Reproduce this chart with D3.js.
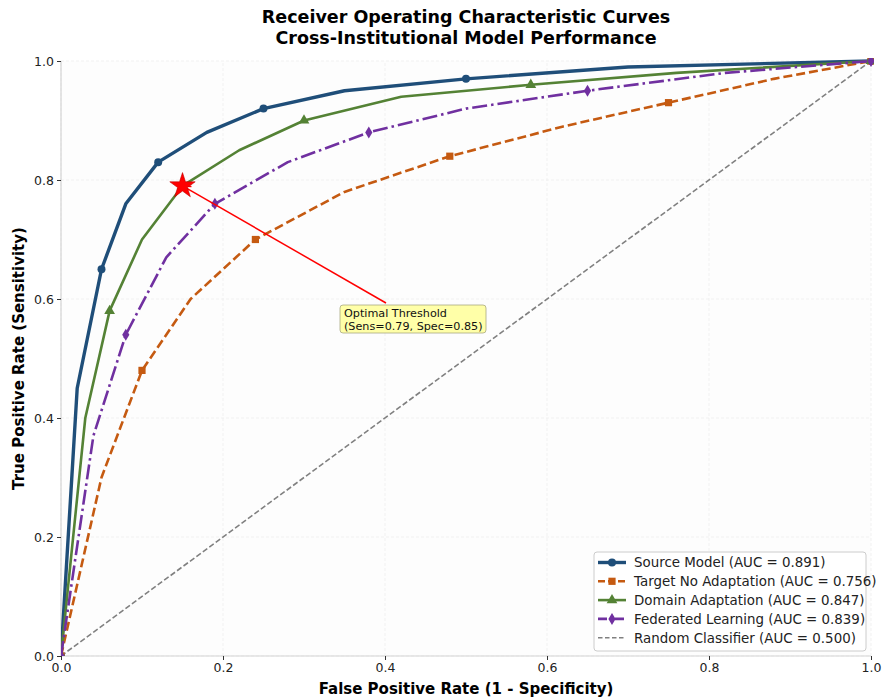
<!DOCTYPE html>
<html>
<head>
<meta charset="utf-8">
<script src="https://cdn.jsdelivr.net/npm/d3@7"></script>
<style>
  body { margin: 0; background: #fff; }
  svg { font-family: "DejaVu Sans", sans-serif; }
</style>
</head>
<body>
<div id="chart"></div>
<script>
// ROC data
const sourceFpr = [0, 0.02, 0.05, 0.08, 0.12, 0.18, 0.25, 0.35, 0.5, 0.7, 1.0];
const sourceTpr = [0, 0.45, 0.65, 0.76, 0.83, 0.88, 0.92, 0.95, 0.97, 0.99, 1.0];

const targetFpr = [0, 0.05, 0.1, 0.16, 0.24, 0.35, 0.48, 0.62, 0.75, 0.88, 1.0];
const targetTpr = [0, 0.3, 0.48, 0.6, 0.7, 0.78, 0.84, 0.89, 0.93, 0.97, 1.0];

const domainFpr = [0, 0.03, 0.06, 0.1, 0.15, 0.22, 0.3, 0.42, 0.58, 0.76, 1.0];
const domainTpr = [0, 0.4, 0.58, 0.7, 0.79, 0.85, 0.9, 0.94, 0.96, 0.98, 1.0];

const fedFpr = [0, 0.04, 0.08, 0.13, 0.19, 0.28, 0.38, 0.5, 0.65, 0.82, 1.0];
const fedTpr = [0, 0.37, 0.54, 0.67, 0.76, 0.83, 0.88, 0.92, 0.95, 0.98, 1.0];

const randomFpr = [0, 1];
const randomTpr = [0, 1];

const seriesNames = [
  'Source Model (AUC = 0.891)',
  'Target No Adaptation (AUC = 0.756)',
  'Domain Adaptation (AUC = 0.847)',
  'Federated Learning (AUC = 0.839)',
  'Random Classifier (AUC = 0.500)'
];

const tickValues = [0, 0.2, 0.4, 0.6, 0.8, 1.0];

const optimalPoint = { fpr: 0.15, tpr: 0.79 };
const optimalText = ['Optimal Threshold', '(Sens=0.79, Spec=0.85)'];

const width = 890, height = 699;
const margin = { top: 61, right: 19, bottom: 43, left: 61 };

const svg = d3.select('#chart').append('svg')
    .attr('width', width)
    .attr('height', height);

const x = d3.scaleLinear().domain([0, 1]).range([margin.left, width - margin.right]);
const y = d3.scaleLinear().domain([0, 1]).range([height - margin.bottom, margin.top]);

// plot background
svg.append('rect')
    .attr('x', x(0)).attr('y', y(1))
    .attr('width', x(1) - x(0)).attr('height', y(0) - y(1))
    .attr('fill', '#fdfdfd');

// grid
const grid = svg.append('g');
tickValues.forEach(t => {
    grid.append('line')
        .attr('x1', x(t)).attr('x2', x(t))
        .attr('y1', y(0)).attr('y2', y(1))
        .attr('stroke', '#eeeeee').attr('stroke-width', 0.8)
        .attr('stroke-dasharray', '3,2');
    grid.append('line')
        .attr('x1', x(0)).attr('x2', x(1))
        .attr('y1', y(t)).attr('y2', y(t))
        .attr('stroke', '#eeeeee').attr('stroke-width', 0.8)
        .attr('stroke-dasharray', '3,2');
});

// spines
svg.append('line')
    .attr('x1', x(0)).attr('x2', x(0)).attr('y1', y(0)).attr('y2', y(1))
    .attr('stroke', '#d4d4d4').attr('stroke-width', 1.2);
svg.append('line')
    .attr('x1', x(0)).attr('x2', x(1)).attr('y1', y(0)).attr('y2', y(0))
    .attr('stroke', '#d4d4d4').attr('stroke-width', 1.2);

// axes
const fmt = d3.format('.1f');
const xAxis = svg.append('g')
    .attr('transform', `translate(0,${y(0)})`)
    .call(d3.axisBottom(x).tickValues(tickValues).tickFormat(fmt).tickSize(4).tickPadding(3));
const yAxis = svg.append('g')
    .attr('transform', `translate(${x(0)},0)`)
    .call(d3.axisLeft(y).tickValues(tickValues).tickFormat(fmt).tickSize(4).tickPadding(3));
[xAxis, yAxis].forEach(a => {
    a.select('.domain').remove();
    a.selectAll('text').attr('font-size', 12.5).attr('fill', '#222')
        .attr('font-family', '"DejaVu Sans", sans-serif');
    a.selectAll('line').attr('stroke', '#333');
});

// series
const series = [
    { fpr: sourceFpr, tpr: sourceTpr, color: '#1f4e79', width: 3.4, dash: null, marker: 'circle' },
    { fpr: targetFpr, tpr: targetTpr, color: '#c55a11', width: 2.6, dash: '9,4', marker: 'square' },
    { fpr: domainFpr, tpr: domainTpr, color: '#548235', width: 2.6, dash: null, marker: 'triangle' },
    { fpr: fedFpr, tpr: fedTpr, color: '#7030a0', width: 2.6, dash: '15,4,2.5,4', marker: 'diamond' },
    { fpr: randomFpr, tpr: randomTpr, color: '#808080', width: 1.6, dash: '5.5,2.5', marker: null }
];

const symbolType = {
    circle: d3.symbolCircle,
    square: d3.symbolSquare,
    triangle: d3.symbolTriangle,
    diamond: d3.symbolDiamond
};
const symbolSize = { circle: 50, square: 52, triangle: 50, diamond: 40 };

function markerPath(kind, scale) {
    if (kind === 'diamond') {
        // thin matplotlib-style diamond
        const h = 6 * scale, w = 3.6 * scale;
        return `M0,${-h}L${w},0L0,${h}L${-w},0Z`;
    }
    return d3.symbol().type(symbolType[kind]).size(symbolSize[kind] * scale * scale)();
}

const line = d3.line().x(d => x(d[0])).y(d => y(d[1]));

svg.append('clipPath').attr('id', 'plot-clip')
    .append('rect')
    .attr('x', x(0)).attr('y', y(1) - 3)
    .attr('width', x(1) - x(0) + 3).attr('height', y(0) - y(1) + 3);

const plot = svg.append('g').attr('clip-path', 'url(#plot-clip)');

// draw random classifier first
[4, 0, 1, 2, 3].forEach(i => {
    const s = series[i];
    const pts = s.fpr.map((f, j) => [f, s.tpr[j]]);
    plot.append('path')
        .datum(pts)
        .attr('d', line)
        .attr('fill', 'none')
        .attr('stroke', s.color)
        .attr('stroke-width', s.width)
        .attr('stroke-dasharray', s.dash)
        .attr('stroke-linejoin', 'round');
    if (s.marker) {
        plot.selectAll(null)
            .data(pts.filter((d, j) => j % 2 === 0))
            .enter().append('path')
            .attr('d', markerPath(s.marker, 1))
            .attr('transform', d => `translate(${x(d[0])},${y(d[1])})`)
            .attr('fill', s.color);
    }
});

// annotation
const star = { x: x(optimalPoint.fpr), y: y(optimalPoint.tpr) };
const boxX = 340, boxY = 305, boxW = 146, boxH = 28;
const arrowStart = { x: 386, y: 303 };
const ang = Math.atan2(star.y - arrowStart.y, star.x - arrowStart.x);
svg.append('line')
    .attr('x1', arrowStart.x).attr('y1', arrowStart.y)
    .attr('x2', star.x).attr('y2', star.y)
    .attr('stroke', 'red').attr('stroke-width', 1.5);
[Math.PI / 7, -Math.PI / 7].forEach(a => {
    svg.append('line')
        .attr('x1', star.x).attr('y1', star.y)
        .attr('x2', star.x - 9 * Math.cos(ang + a)).attr('y2', star.y - 9 * Math.sin(ang + a))
        .attr('stroke', 'red').attr('stroke-width', 1.5);
});
svg.append('path')
    .attr('d', d3.symbol().type(d3.symbolStar).size(200)())
    .attr('transform', `translate(${star.x},${star.y})`)
    .attr('fill', 'red')
    .attr('stroke', '#c00000').attr('stroke-width', 0.6);

svg.append('rect')
    .attr('x', boxX).attr('y', boxY).attr('width', boxW).attr('height', boxH)
    .attr('rx', 3)
    .attr('fill', '#ffffa3').attr('fill-opacity', 0.95)
    .attr('stroke', '#a8a880').attr('stroke-width', 0.8);
svg.append('text')
    .attr('x', boxX + 4).attr('y', boxY + 11.5)
    .attr('font-size', 11.2).attr('fill', '#111')
    .selectAll('tspan').data(optimalText).enter().append('tspan')
    .attr('x', boxX + 4).attr('dy', (d, i) => i === 0 ? 0 : 13)
    .text(d => d);

// titles
svg.append('text')
    .attr('x', x(0.5)).attr('y', 23)
    .attr('text-anchor', 'middle')
    .attr('font-size', 17.5).attr('font-weight', 'bold').attr('fill', '#000')
    .text('Receiver Operating Characteristic Curves');
svg.append('text')
    .attr('x', x(0.5)).attr('y', 43.5)
    .attr('text-anchor', 'middle')
    .attr('font-size', 17.5).attr('font-weight', 'bold').attr('fill', '#000')
    .text('Cross-Institutional Model Performance');

svg.append('text')
    .attr('x', x(0.5)).attr('y', 694)
    .attr('text-anchor', 'middle')
    .attr('font-size', 15).attr('font-weight', 'bold').attr('fill', '#000')
    .text('False Positive Rate (1 - Specificity)');
svg.append('text')
    .attr('transform', `translate(24,${y(0.5)}) rotate(-90)`)
    .attr('text-anchor', 'middle')
    .attr('font-size', 15).attr('font-weight', 'bold').attr('fill', '#000')
    .text('True Positive Rate (Sensitivity)');

// legend
const legX = 594, legY = 552, legW = 272, legH = 99;
const legend = svg.append('g');
legend.append('rect')
    .attr('x', legX).attr('y', legY).attr('width', legW).attr('height', legH)
    .attr('rx', 3)
    .attr('fill', '#fff').attr('fill-opacity', 0.9)
    .attr('stroke', '#cccccc').attr('stroke-width', 1);
series.forEach((s, i) => {
    const ry = legY + 10.5 + i * 18.8;
    legend.append('line')
        .attr('x1', legX + 4).attr('x2', legX + 32)
        .attr('y1', ry).attr('y2', ry)
        .attr('stroke', s.color).attr('stroke-width', s.width)
        .attr('stroke-dasharray', s.dash ? (i === 3 ? '9,3,2,3' : (i === 1 ? '7,3' : '4.5,2.5')) : null);
    if (s.marker) {
        legend.append('path')
            .attr('d', markerPath(s.marker, 1))
            .attr('transform', `translate(${legX + 18},${ry})`)
            .attr('fill', s.color);
    }
    legend.append('text')
        .attr('x', legX + 40).attr('y', ry + 4.8)
        .attr('font-size', 13.4).attr('fill', '#222')
        .text(seriesNames[i]);
});
</script>
</body>
</html>
